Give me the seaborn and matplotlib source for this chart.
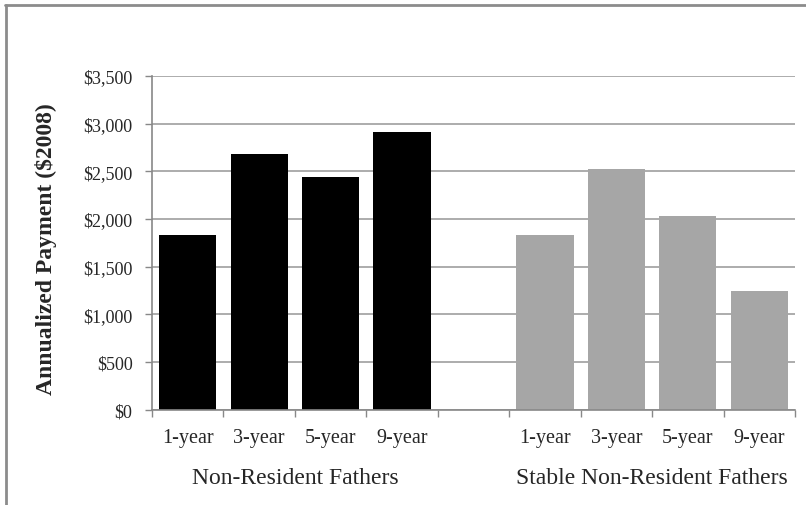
import matplotlib
matplotlib.use("Agg")
import matplotlib.pyplot as plt
import seaborn as sns
import pandas as pd
from matplotlib.lines import Line2D
from matplotlib.ticker import FuncFormatter, FixedLocator

groups = ["Non-Resident Fathers", "Stable Non-Resident Fathers"]
years = ["1-year", "3-year", "5-year", "9-year"]
nonresident = [1832, 2681, 2440, 2909]
stable = [1832, 2521, 2028, 1248]

rows = []
for g, vals in zip(groups, [nonresident, stable]):
    for y, v in zip(years, vals):
        rows.append({"key": f"{g}|{y}", "group": g, "year": y, "payment": v})
df = pd.DataFrame(rows)
order = [f"{groups[0]}|{y}" for y in years] + ["gap"] + [f"{groups[1]}|{y}" for y in years]

sns.set_theme(style="white")
plt.rcParams["font.family"] = ["Liberation Serif", "DejaVu Serif"]

fig = plt.figure(figsize=(8.06, 5.06), dpi=100)
ax = fig.add_axes([152/806, 1-410.8/506, (795-152)/806, (410.8-77)/506])

sns.barplot(data=df, x="key", y="payment", hue="group", order=order,
            palette={groups[0]: "#000000", groups[1]: "#a6a6a6"},
            dodge=False, width=0.8, linewidth=0, legend=False, ax=ax)

ax.set_ylim(0, 3500)
ax.set_xlim(-0.5, len(order) - 0.5)
ax.set_yticks(range(0, 3501, 500))
ax.yaxis.set_major_formatter(FuncFormatter(lambda v, p: f"${int(v):,}"))
ax.yaxis.grid(True, color="#a6a6a6", linewidth=1.3)
ax.set_axisbelow(True)

labels = [k.split("|")[1] if "|" in k else "" for k in order]
ax.set_xticks(range(len(order)))
ax.set_xticklabels(labels, fontsize=14.5)
ax.xaxis.set_minor_locator(FixedLocator([i - 0.5 for i in range(len(order) + 1)]))
ax.tick_params(axis="x", which="major", length=0, pad=13)
ax.tick_params(axis="x", which="minor", length=5, color="#888888", width=1, bottom=True)
ax.tick_params(axis="y", length=5, color="#888888", width=1, left=True, labelsize=13, pad=9)

for s in ["top", "right"]:
    ax.spines[s].set_visible(False)
for s in ["left", "bottom"]:
    ax.spines[s].set_color("#888888")
    ax.spines[s].set_linewidth(1.2)

ax.set_xlabel("")
ax.set_ylabel("Annualized Payment ($2008)", fontsize=17, fontweight="bold", labelpad=6)
ax.yaxis.set_label_coords(-0.147, 0.485)

for i, g in enumerate(groups):
    xc = 1.5 + 5 * i
    ax.text(xc, -0.202, g, transform=ax.get_xaxis_transform(), ha="center", va="center", fontsize=17)

fig.add_artist(Line2D([5/806, 1], [1-6/506, 1-6/506], color="#8c8c8c", linewidth=2, transform=fig.transFigure))
fig.add_artist(Line2D([6/806, 6/806], [0, 1-6/506], color="#8c8c8c", linewidth=2, transform=fig.transFigure))

fig.savefig("out.png", dpi=100)
